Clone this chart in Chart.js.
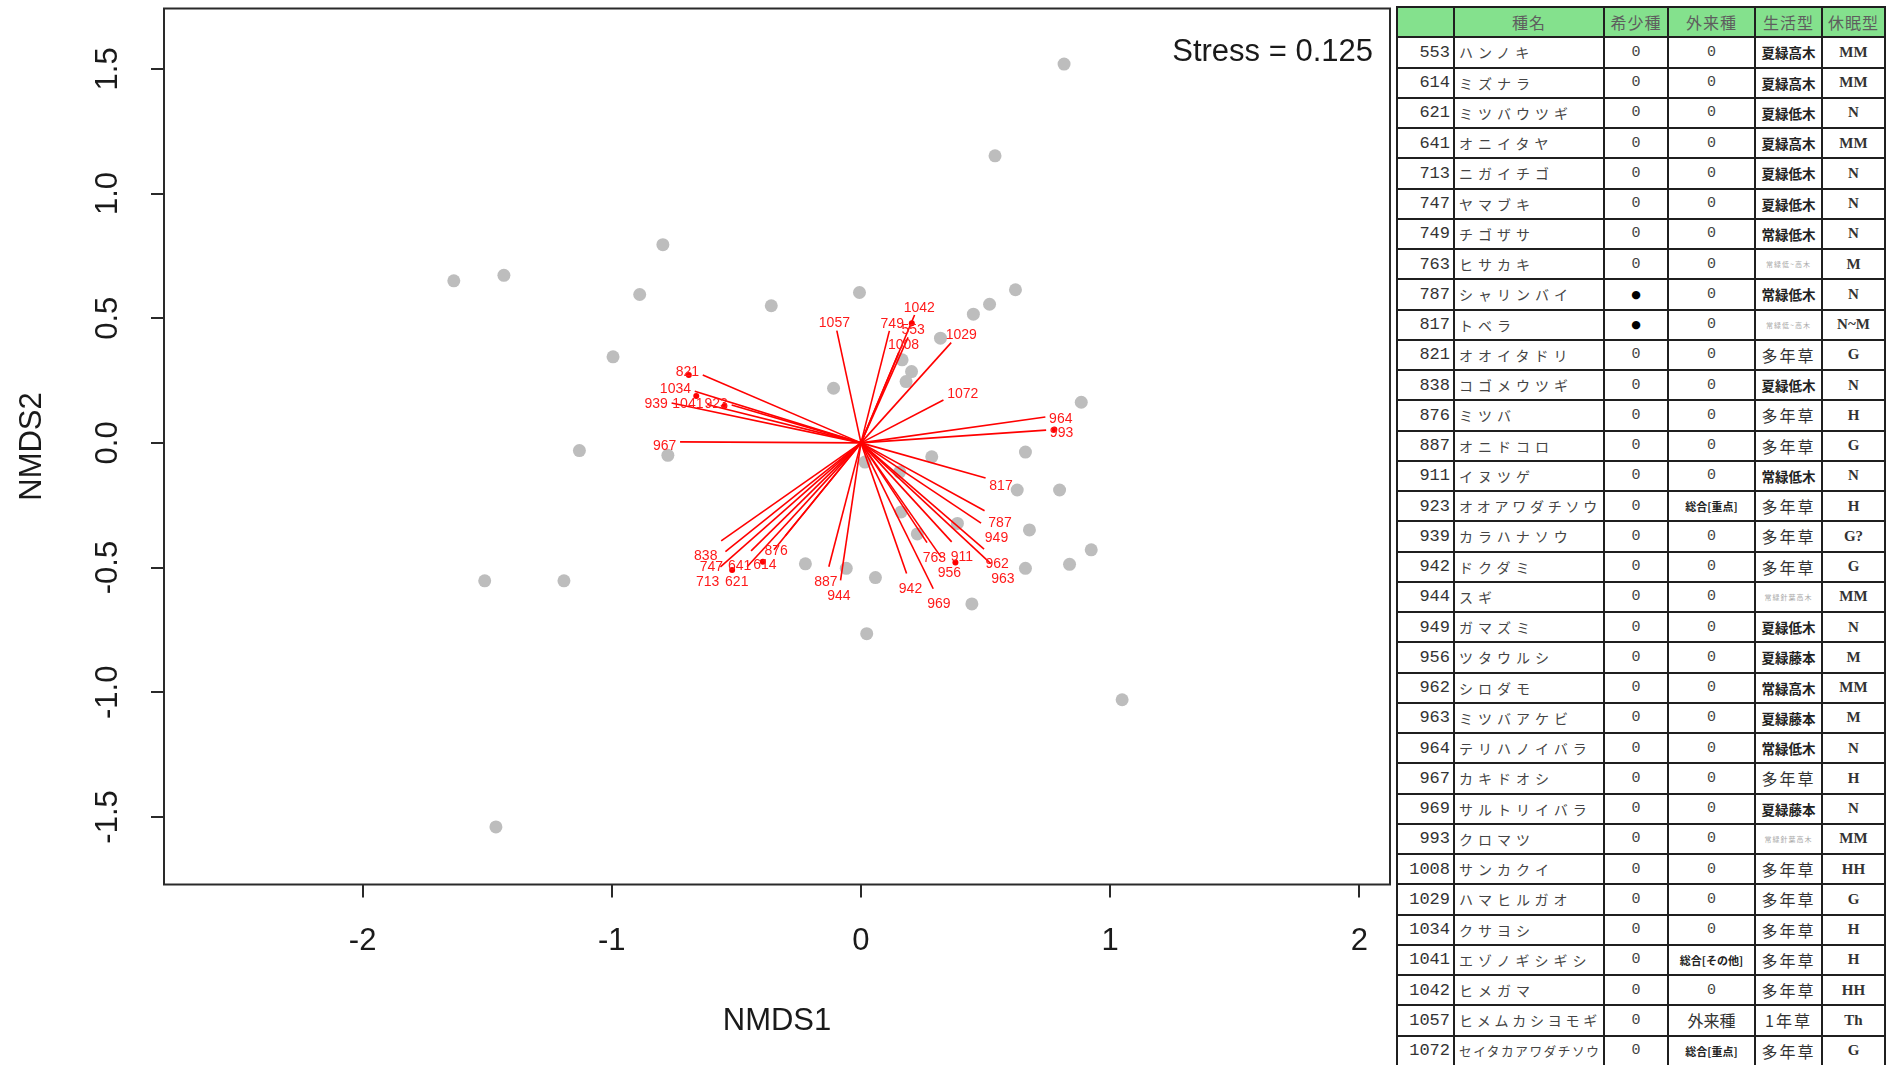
<!DOCTYPE html>
<html lang="ja">
<head>
<meta charset="utf-8">
<title>NMDS ordination with species vectors</title>
<script src="https://cdn.jsdelivr.net/npm/chart.js@4.4.1/dist/chart.umd.min.js"></script>
<style>
  html, body { margin: 0; padding: 0; background: #fff; overflow: hidden; }
  body { width: 1892px; height: 1065px; position: relative; }
  #plotBox { position: absolute; left: 0; top: 0; width: 1392px; height: 1065px; }
  #species { position: absolute; left: 1396px; top: 6px; border-collapse: collapse; table-layout: fixed; width: 488px; }
  #species td { border: 2px solid #1f1f1f; padding: 0; overflow: hidden; white-space: nowrap; vertical-align: middle; color: #333; }
  #species tr { height: 30.25px; }
  #species thead td { background: #84e18d; color: #5e5e5e; font: 16px "Noto Sans CJK JP"; text-align: center; letter-spacing: 1px; }
  td.id { text-align: right !important; padding-right: 3px !important; font: 17px "Liberation Mono", monospace; color: #333; }
  td.nm { text-align: left; padding-left: 4px !important; font-family: "Noto Sans CJK JP"; color: #444 !important; }
  td.c { text-align: center; font: 15px "Liberation Mono", monospace; color: #444 !important; }
  td.dot { text-align: center; font: 11px "DejaVu Sans"; color: #000 !important; }
  td.alSmall { text-align: center; font: bold 11px "Noto Sans CJK JP"; color: #222 !important; letter-spacing: 0; }
  td.alBig { text-align: center; font: 16px "Noto Sans CJK JP"; color: #333 !important; }
  td.lf4 { text-align: center; font: bold 13.5px "Noto Sans CJK JP"; color: #222 !important; }
  td.lf3 { text-align: center; font: 16px "Noto Sans CJK JP"; letter-spacing: 2px; color: #333 !important; }
  td.lfTiny { text-align: center; font: 7px "Noto Sans CJK JP"; color: #aaa !important; letter-spacing: 1px; }
  td.dm { text-align: center; font: bold 15px "Liberation Serif", serif; color: #333 !important; }
</style>
</head>
<body>
<div id="plotBox"><canvas id="nmds"></canvas></div>
<table id="species">
  <colgroup>
    <col style="width:57px"><col style="width:150px"><col style="width:64px">
    <col style="width:87px"><col style="width:67px"><col style="width:63px">
  </colgroup>
  <thead></thead>
  <tbody></tbody>
</table>
<script>
// Site scores (NMDS1, NMDS2)
const siteX = [0.815, 0.538, -0.795, -1.634, -1.433, -0.888, -0.360, -0.006, 0.620, 0.516,
               0.451, 0.319, 0.165, 0.203, 0.181, -0.110, -0.995, 0.884, -1.130, -0.775,
               0.660, 0.284, 0.016, 0.155, 0.627, 0.797, 0.161, 0.387, 0.226, 0.676,
               0.924, -0.223, -0.059, 0.058, 0.660, 0.837, 0.445, 0.023, 1.048, -1.510,
               -1.192, -1.465];
const siteY = [1.519, 1.151, 0.795, 0.650, 0.672, 0.595, 0.550, 0.603, 0.614, 0.556,
               0.516, 0.420, 0.333, 0.286, 0.246, 0.219, 0.345, 0.163, -0.031, -0.050,
               -0.037, -0.056, -0.077, -0.117, -0.189, -0.189, -0.277, -0.323, -0.365, -0.349,
               -0.429, -0.485, -0.503, -0.540, -0.503, -0.487, -0.646, -0.765, -1.030, -0.553,
               -0.553, -1.540];

// Species fitted vectors (arrow heads in NMDS1/NMDS2 units)
const speciesIds = [553, 614, 621, 641, 713, 747, 749, 763, 787, 817,
                    821, 838, 876, 887, 911, 923, 939, 942, 944, 949,
                    956, 962, 963, 964, 967, 969, 993, 1008, 1029, 1034,
                    1041, 1042, 1057, 1072];
const vecX = [0.189, -0.349, -0.457, -0.441, -0.564, -0.544, 0.114, 0.265, 0.496, 0.500,
              -0.635, -0.561, -0.304, -0.129, 0.364, -0.519, -0.760, 0.183, -0.082, 0.482,
              0.323, 0.494, 0.521, 0.740, -0.726, 0.290, 0.743, 0.152, 0.362, -0.667,
              -0.617, 0.215, -0.097, 0.331];
const vecY = [0.423, -0.429, -0.497, -0.433, -0.497, -0.436, 0.449, -0.400, -0.272, -0.141,
              0.272, -0.393, -0.373, -0.497, -0.397, 0.152, 0.160, -0.524, -0.551, -0.322,
              -0.460, -0.426, -0.484, 0.104, 0.004, -0.585, 0.051, 0.363, 0.402, 0.207,
              0.154, 0.513, 0.450, 0.172];

// Species score points shown in red
const markX = [-0.691, -0.661, -0.548, -0.517, -0.394, 0.204, 0.379, 0.776];
const markY = [0.272, 0.188, 0.148, -0.510, -0.477, 0.480, -0.480, 0.054];

// Axis ticks
const xTicks = [-2, -1, 0, 1, 2];
const xTickLabels = ['-2', '-1', '0', '1', '2'];
const yTicks = [-1.5, -1, -0.5, 0, 0.5, 1, 1.5];
const yTickLabels = ['-1.5', '-1.0', '-0.5', '0.0', '0.5', '1.0', '1.5'];
const stressValue = 0.125;

// Species table
const tableHeader = ['', '種名', '希少種', '外来種', '生活型', '休眠型'];
const jpNames = ['ハンノキ', 'ミズナラ', 'ミツバウツギ', 'オニイタヤ', 'ニガイチゴ', 'ヤマブキ', 'チゴザサ', 'ヒサカキ', 'シャリンバイ', 'トベラ',
                 'オオイタドリ', 'コゴメウツギ', 'ミツバ', 'オニドコロ', 'イヌツゲ', 'オオアワダチソウ', 'カラハナソウ', 'ドクダミ', 'スギ', 'ガマズミ',
                 'ツタウルシ', 'シロダモ', 'ミツバアケビ', 'テリハノイバラ', 'カキドオシ', 'サルトリイバラ', 'クロマツ', 'サンカクイ', 'ハマヒルガオ', 'クサヨシ',
                 'エゾノギシギシ', 'ヒメガマ', 'ヒメムカシヨモギ', 'セイタカアワダチソウ'];
const rareFlag = ['0', '0', '0', '0', '0', '0', '0', '0', '●', '●',
                  '0', '0', '0', '0', '0', '0', '0', '0', '0', '0',
                  '0', '0', '0', '0', '0', '0', '0', '0', '0', '0',
                  '0', '0', '0', '0'];
const alienFlag = ['0', '0', '0', '0', '0', '0', '0', '0', '0', '0',
                   '0', '0', '0', '0', '0', '総合[重点]', '0', '0', '0', '0',
                   '0', '0', '0', '0', '0', '0', '0', '0', '0', '0',
                   '総合[その他]', '0', '外来種', '総合[重点]'];
const lifeForm = ['夏緑高木', '夏緑高木', '夏緑低木', '夏緑高木', '夏緑低木', '夏緑低木', '常緑低木', '常緑低~高木', '常緑低木', '常緑低~高木',
                  '多年草', '夏緑低木', '多年草', '多年草', '常緑低木', '多年草', '多年草', '多年草', '常緑針葉高木', '夏緑低木',
                  '夏緑藤本', '常緑高木', '夏緑藤本', '常緑低木', '多年草', '夏緑藤本', '常緑針葉高木', '多年草', '多年草', '多年草',
                  '多年草', '多年草', '1年草', '多年草'];
const dormancy = ['MM', 'MM', 'N', 'MM', 'N', 'N', 'N', 'M', 'N', 'N~M',
                  'G', 'N', 'H', 'G', 'N', 'H', 'G?', 'G', 'MM', 'N',
                  'M', 'MM', 'M', 'N', 'H', 'N', 'MM', 'HH', 'G', 'H',
                  'H', 'HH', 'Th', 'G'];

// ---- table ----
(function buildTable() {
  const table = document.getElementById('species');
  const hr = document.createElement('tr');
  tableHeader.forEach(t => { const td = document.createElement('td'); td.textContent = t; hr.appendChild(td); });
  table.tHead.appendChild(hr);
  const body = table.tBodies[0];
  speciesIds.forEach((id, i) => {
    const tr = document.createElement('tr');
    const add = (text, cls, style) => {
      const td = document.createElement('td');
      td.textContent = text; td.className = cls;
      if (style) Object.assign(td.style, style);
      tr.appendChild(td);
    };
    add(String(id), 'id');
    const n = jpNames[i].length;
    const pitch = Math.min(19, 142 / n);
    const fs = Math.min(14, pitch - 1.5);
    add(jpNames[i], 'nm', { fontSize: fs + 'px', letterSpacing: (pitch - fs) + 'px' });
    add(rareFlag[i], rareFlag[i] === '0' ? 'c' : 'dot');
    const a = alienFlag[i];
    add(a, a === '0' ? 'c' : (a.length > 3 ? 'alSmall' : 'alBig'));
    const lf = lifeForm[i];
    add(lf, lf.length >= 5 ? 'lfTiny' : (lf.length === 4 ? 'lf4' : 'lf3'));
    add(dormancy[i], 'dm');
    body.appendChild(tr);
  });
})();

// ---- chart ----
const FONT = '"Liberation Sans", Arial, sans-serif';
const AXIS_FONT_SIZE = 31;
const LABEL_FONT_SIZE = 14;

// Place a label just beyond the arrow head, on the continuation of the arrow
function labelCentre(tx, ty, ox, oy, w, h) {
  const dx = tx - ox, dy = oy - ty;
  const b = dy / dx;
  let offX = Math.sign(dx) * (w / 2 + h / 4);
  let offY = 0.75 * h * Math.sign(dy);
  const move = offY / b;
  if (isFinite(move) && Math.abs(move) <= Math.abs(offX)) offX = move;
  else offY = b * offX;
  return [tx + offX, ty - offY];
}

const frameAndLabels = {
  id: 'frameAndLabels',
  afterDatasetsDraw(chart) {
    const { ctx, chartArea: a, scales: { x, y } } = chart;
    ctx.save();

    // species labels
    ctx.font = LABEL_FONT_SIZE + 'px ' + FONT;
    ctx.fillStyle = '#ff1a1a';
    ctx.textAlign = 'center';
    ctx.textBaseline = 'alphabetic';
    const ox = x.getPixelForValue(0), oy = y.getPixelForValue(0);
    const hText = 15;
    speciesIds.forEach((id, i) => {
      const label = String(id);
      const w = ctx.measureText(label).width;
      const tx = x.getPixelForValue(vecX[i]), ty = y.getPixelForValue(vecY[i]);
      const [cx, cy] = labelCentre(tx, ty, ox, oy, w, hText);
      ctx.fillText(label, cx, cy + 3 + LABEL_FONT_SIZE * 0.358);
    });

    // frame
    ctx.strokeStyle = '#2a2a2a';
    ctx.lineWidth = 2;
    ctx.strokeRect(a.left, a.top, a.right - a.left, a.bottom - a.top);

    // tick marks
    ctx.beginPath();
    xTicks.forEach(v => { const px = Math.round(x.getPixelForValue(v)); ctx.moveTo(px, a.bottom); ctx.lineTo(px, a.bottom + 13); });
    yTicks.forEach(v => { const py = Math.round(y.getPixelForValue(v)); ctx.moveTo(a.left, py); ctx.lineTo(a.left - 13, py); });
    ctx.stroke();

    // tick labels
    ctx.fillStyle = '#1a1a1a';
    ctx.font = AXIS_FONT_SIZE + 'px ' + FONT;
    ctx.textAlign = 'center';
    ctx.textBaseline = 'middle';
    xTicks.forEach((v, i) => ctx.fillText(xTickLabels[i], x.getPixelForValue(v), 941));
    yTicks.forEach((v, i) => {
      ctx.save();
      ctx.translate(108, y.getPixelForValue(v));
      ctx.rotate(-Math.PI / 2);
      ctx.fillText(yTickLabels[i], 0, 0);
      ctx.restore();
    });

    // axis titles
    ctx.fillText('NMDS1', (a.left + a.right) / 2, 1021);
    ctx.save();
    ctx.translate(32, (a.top + a.bottom) / 2);
    ctx.rotate(-Math.PI / 2);
    ctx.fillText('NMDS2', 0, 0);
    ctx.restore();

    // stress
    ctx.textAlign = 'right';
    ctx.textBaseline = 'alphabetic';
    ctx.fillText('Stress = ' + stressValue.toFixed(3), a.right - 17, 61);
    ctx.restore();
  }
};

const datasets = [];
datasets.push({
  label: 'sites',
  data: siteX.map((v, i) => ({ x: v, y: siteY[i] })),
  pointRadius: 6.5, pointHoverRadius: 6.5,
  backgroundColor: '#bdbdbd', borderWidth: 0,
  order: 3
});
speciesIds.forEach((id, i) => {
  datasets.push({
    label: String(id),
    data: [{ x: 0, y: 0 }, { x: vecX[i], y: vecY[i] }],
    showLine: true,
    borderColor: '#ff0000', borderWidth: 1.6,
    pointRadius: 0, pointHoverRadius: 0,
    order: 2
  });
});
datasets.push({
  label: 'species',
  data: markX.map((v, i) => ({ x: v, y: markY[i] })),
  pointRadius: 3, pointHoverRadius: 3,
  backgroundColor: '#ff0000', borderWidth: 0,
  order: 1
});

new Chart(document.getElementById('nmds'), {
  type: 'scatter',
  data: { datasets },
  options: {
    responsive: true,
    maintainAspectRatio: false,
    animation: false,
    events: [],
    layout: { autoPadding: false, padding: { left: 164, right: 2, top: 8.5, bottom: 180.5 } },
    plugins: { legend: { display: false }, tooltip: { enabled: false } },
    scales: {
      x: { type: 'linear', min: -2.797, max: 2.123, display: false },
      y: { type: 'linear', min: -1.771, max: 1.742, display: false }
    }
  },
  plugins: [frameAndLabels]
});
</script>
</body>
</html>
